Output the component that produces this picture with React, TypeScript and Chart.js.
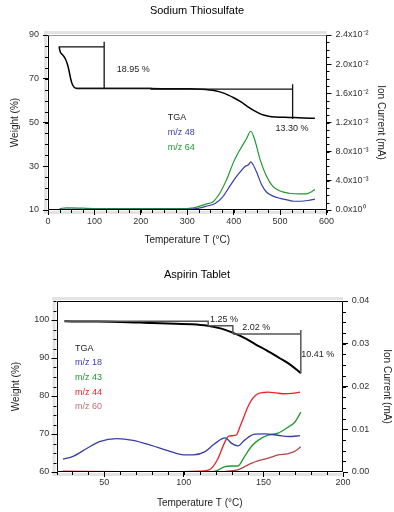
import React, { useEffect, useRef } from "react";
import { Chart, registerables } from "chart.js";

Chart.register(...registerables);

const FONT = "'Liberation Sans', Arial, Helvetica, sans-serif";

// ---------------- Sodium Thiosulfate ----------------
const thioTitle = "Sodium Thiosulfate";
const thioXTicks = [0, 100, 200, 300, 400, 500, 600];
const thioYTicks = [10, 30, 50, 70, 90];
const thioY2Ticks = [0, 0.004, 0.008, 0.012, 0.016, 0.02, 0.024];

const thioTgaTemp = [24, 25, 27, 30, 34, 38, 42, 45, 48, 51, 54, 57, 60, 64, 120, 220, 300, 330, 360, 380, 400, 415, 430, 445, 460, 475, 490, 520, 550, 575];
const thioTgaWeight = [84.8, 83.4, 82.0, 81.2, 80.3, 78.8, 76.5, 74.0, 70.8, 68.3, 66.8, 66.0, 65.7, 65.6, 65.6, 65.5, 65.4, 65.2, 64.5, 63.3, 61.3, 59.5, 57.3, 55.3, 53.7, 52.9, 52.5, 52.3, 52.1, 51.9];

const thioMz48Temp = [25, 100, 200, 300, 320, 340, 360, 375, 390, 405, 415, 425, 432, 437, 442, 450, 460, 470, 485, 500, 515, 530, 545, 560, 575];
const thioMz48Current = [0.0001, 0.0001, 0.0001, 0.0001, 0.0002, 0.0005, 0.0009, 0.0017, 0.0031, 0.0045, 0.0053, 0.006, 0.0062, 0.0066, 0.0062, 0.0051, 0.0035, 0.0025, 0.0019, 0.0016, 0.0014, 0.0012, 0.0012, 0.0013, 0.0015];

const thioMz64Temp = [25, 40, 50, 100, 200, 300, 320, 340, 355, 370, 385, 400, 413, 427, 437, 445, 457, 471, 485, 500, 520, 540, 555, 565, 575];
const thioMz64Current = [0.0002, 0.0003, 0.0003, 0.0002, 0.0002, 0.0002, 0.0004, 0.0008, 0.0011, 0.0023, 0.0042, 0.0066, 0.0082, 0.0097, 0.0108, 0.0097, 0.0069, 0.0046, 0.0032, 0.0026, 0.0023, 0.0022, 0.0022, 0.0024, 0.0028];

// step annotation (null = break)
const thioStepTemp = [25, 121, null, 121, 121, null, 60, 222, 222, 527, null, 527, 527];
const thioStepWeight = [84.6, 84.6, null, 86.9, 65.6, null, 65.6, 65.6, 65.3, 65.3, null, 67.5, 51.6];

const thioLabelText = ["18.95 %", "13.30 %", "TGA", "m/z 48", "m/z 64"];
const thioLabelTemp = [148, 490, 258, 258, 258];
const thioLabelWeight = [74.3, 47.3, 52.4, 45.3, 38.5];
const thioLabelColor = ["#222", "#222", "#222", "#3a3da6", "#1f9a2f"];

// ---------------- Aspirin Tablet ----------------
const asprTitle = "Aspirin Tablet";
const asprXTicks = [50, 100, 150, 200];
const asprYTicks = [60, 70, 80, 90, 100];
const asprY2Ticks = [0, 0.01, 0.02, 0.03, 0.04];

const asprTgaTemp = [25, 40, 60, 80, 95, 105, 115, 123, 131, 138, 145, 152, 160, 167, 173.5];
const asprTgaWeight = [99.65, 99.6, 99.5, 99.2, 99.0, 98.9, 98.5, 97.8, 96.6, 95.3, 93.6, 92.0, 90.0, 88.2, 86.0];

const asprMz18Temp = [24, 30, 39, 47, 58, 68, 79, 90, 100, 106, 113, 119, 126, 130, 134, 138, 144, 151, 159, 166, 173];
const asprMz18Current = [0.003, 0.0036, 0.0055, 0.0071, 0.0078, 0.0074, 0.0063, 0.005, 0.004, 0.004, 0.0047, 0.0065, 0.008, 0.0067, 0.0061, 0.0074, 0.0088, 0.0089, 0.0086, 0.0083, 0.0085];

const asprMz43Temp = [24, 60, 100, 115, 120, 125.4, 129.7, 133.9, 138.1, 142.3, 146.6, 152.9, 159.2, 165.6, 169.8, 173.5];
const asprMz43Current = [0, 0, 0, 0, 0.0002, 0.0012, 0.0014, 0.0014, 0.0036, 0.0059, 0.0074, 0.0086, 0.0091, 0.0105, 0.0117, 0.014];

const asprMz44Temp = [24, 60, 100, 110, 116, 121, 125.4, 128.2, 132.8, 135.5, 138.1, 140.2, 142.3, 144.5, 146.6, 150, 153, 158, 163, 168, 173];
const asprMz44Current = [0.0002, 0.0001, 0.0001, 0.0002, 0.0005, 0.0028, 0.0067, 0.0084, 0.0086, 0.0108, 0.0133, 0.0152, 0.0167, 0.0177, 0.0183, 0.0186, 0.0187, 0.0185, 0.0183, 0.0184, 0.0187];

const asprMz60Temp = [24, 60, 100, 120, 127.6, 133.9, 138, 142.3, 146.5, 150.8, 155, 159.2, 165.6, 170, 173.5];
const asprMz60Current = [0, 0, 0, 0, 0.0002, 0.0005, 0.0012, 0.002, 0.0026, 0.003, 0.0035, 0.004, 0.0043, 0.0049, 0.0059];

const asprStepTemp = [25, 115.3, 115.3, null, 115.3, 130.8, 130.8, null, 130.8, 173.5, null, 173.5, 173.5];
const asprStepWeight = [99.65, 99.65, 98.5, null, 98.5, 98.5, 96.3, null, 96.3, 96.3, null, 97.4, 86.0];

const asprLabelText = ["1.25 %", "2.02 %", "10.41 %", "TGA", "m/z 18", "m/z 43", "m/z 44", "m/z 60"];
const asprLabelTemp = [116.4, 136.7, 173.8, 31.6, 31.6, 31.6, 31.6, 31.6];
const asprLabelWeight = [100.2, 98.0, 91.0, 92.6, 88.9, 84.9, 81.0, 77.2];
const asprLabelColor = ["#222", "#222", "#222", "#222", "#3a3da6", "#1f9a2f", "#e8242a", "#c07070"];

// ---------------- helpers ----------------
function pts(ts: (number | null)[], vs: (number | null)[]) {
  return ts.map((t, i) => ({ x: t ?? (ts[i - 1] as number), y: vs[i] }));
}

function sciLabel(v: number) {
  if (Math.abs(v) < 1e-9) return "0.0x10\u2070";
  if (v < 0.0099) return (v * 1000).toFixed(1) + "x10\u207B\u00B3";
  return (v * 100).toFixed(1) + "x10\u207B\u00B2";
}

const framePlugin = {
  id: "frame",
  beforeDraw(chart: any, _a: any, opts: any) {
    const { ctx, chartArea } = chart;
    const { left, right, top, bottom } = chartArea;
    ctx.save();
    ctx.fillStyle = "#e3e3e3";
    ctx.fillRect(left - 4, top - 4, 3, bottom - top + 8);
    ctx.fillRect(left - 4, top - 4, right - left + 4, 3);
    ctx.fillRect(left - 4, bottom + 1, right - left + 4, 3);
    ctx.restore();
  },
  afterDatasetsDraw(chart: any, _a: any, opts: any) {
    const { ctx, chartArea } = chart;
    const l = Math.round(chartArea.left) + 0.5;
    const r = Math.round(chartArea.right) - 0.5;
    const t = Math.round(chartArea.top) + 0.5;
    const b = Math.round(chartArea.bottom) - 0.5;
    ctx.save();
    ctx.lineWidth = 1;
    ctx.strokeStyle = opts.topColor || "#000";
    ctx.beginPath();
    ctx.moveTo(l, t);
    ctx.lineTo(r, t);
    ctx.stroke();
    ctx.strokeStyle = "#000";
    ctx.beginPath();
    ctx.moveTo(r, t);
    ctx.lineTo(r, b);
    ctx.lineTo(l, b);
    ctx.lineTo(l, t);
    ctx.stroke();

    // text annotations
    ctx.font = `9px ${FONT}`;
    ctx.textBaseline = "middle";
    ctx.textAlign = "left";
    const xs = chart.scales.x;
    const ys = chart.scales.y;
    (opts.labels || []).forEach((lb: any) => {
      ctx.fillStyle = lb.color;
      ctx.fillText(lb.text, xs.getPixelForValue(lb.x), ys.getPixelForValue(lb.y));
    });
    ctx.restore();
  },
  afterDraw(chart: any, _a: any, opts: any) {
    const { ctx } = chart;
    ctx.save();
    ctx.strokeStyle = "#000";
    ctx.lineWidth = 1;
    (opts.minor || []).forEach((m: any) => {
      const sc = chart.scales[m.id];
      const n = Math.round((m.max - m.min) / m.step);
      for (let i = 0; i <= n; i++) {
        const v = m.min + i * m.step;
        const px = Math.round(sc.getPixelForValue(v)) + 0.5;
        ctx.beginPath();
        if (sc.position === "bottom") {
          ctx.moveTo(px - 0.5 + 0.5, sc.top);
          ctx.lineTo(px - 0.5 + 0.5, sc.top + 3);
        } else if (sc.position === "left") {
          ctx.moveTo(sc.right - 3, px - 0.5 + 0.5);
          ctx.lineTo(sc.right, px - 0.5 + 0.5);
        } else {
          ctx.moveTo(sc.left, px);
          ctx.lineTo(sc.left + 3, px);
        }
        ctx.stroke();
      }
    });
    ctx.restore();
  },
};

function lineDs(data: any[], color: string, width: number, yAxisID: string, smooth: boolean) {
  return {
    data,
    borderColor: color,
    backgroundColor: color,
    borderWidth: width,
    pointRadius: 0,
    fill: false,
    yAxisID,
    spanGaps: false,
    cubicInterpolationMode: smooth ? "monotone" : "default",
    tension: 0,
  };
}

function fixedTicks(values: number[]) {
  return (scale: any) => {
    scale.ticks = values.map((v) => ({ value: v }));
  };
}

const tickFont = { family: FONT, size: 9 };
const titleFont = { family: FONT, size: 10 };

function buildConfig(spec: any) {
  const L = spec.layout;
  return {
    type: "line",
    data: { datasets: spec.datasets },
    plugins: [framePlugin],
    options: {
      animation: false,
      responsive: false,
      maintainAspectRatio: false,
      events: [],
      layout: { padding: 0 },
      plugins: {
        legend: { display: false },
        tooltip: { enabled: false },
        title: {
          display: true,
          text: spec.title,
          color: "#000",
          font: { family: FONT, size: 11, weight: "normal" },
          padding: { top: L.titleTop, bottom: L.titleBottom },
        },
        frame: { labels: spec.labels, minor: spec.minor, topColor: spec.topColor },
      },
      scales: {
        x: {
          type: "linear",
          position: "bottom",
          min: spec.xMin,
          max: spec.xMax,
          afterBuildTicks: fixedTicks(spec.xTicks),
          afterFit: (s: any) => { s.height = L.xHeight; },
          grid: { display: true, drawOnChartArea: false, tickLength: 5, tickColor: "#000", color: "#000" },
          border: { display: false },
          ticks: { color: "#333", font: tickFont, padding: L.xPad, maxRotation: 0, autoSkip: false },
          title: { display: true, text: "Temperature T (\u00B0C)", color: "#222", font: titleFont, padding: { top: 0, bottom: L.xTitlePad } },
        },
        y: {
          type: "linear",
          position: "left",
          min: spec.yMin,
          max: spec.yMax,
          afterBuildTicks: fixedTicks(spec.yTicks),
          afterFit: (s: any) => { s.width = L.yWidth; },
          grid: { display: true, drawOnChartArea: false, tickLength: 5, tickColor: "#000", color: "#000" },
          border: { display: false },
          ticks: { color: "#333", font: tickFont, padding: L.yPad, autoSkip: false },
          title: { display: true, text: "Weight (%)", color: "#222", font: titleFont, padding: { top: L.yTitlePad, bottom: 0 } },
        },
        y2: {
          type: "linear",
          position: "right",
          min: 0,
          max: spec.y2Max,
          afterBuildTicks: fixedTicks(spec.y2Ticks),
          afterFit: (s: any) => { s.width = L.y2Width; },
          grid: { display: true, drawOnChartArea: false, tickLength: 5, tickColor: "#000", color: "#000" },
          border: { display: false },
          ticks: { color: "#333", font: tickFont, padding: L.y2Pad, autoSkip: false, callback: spec.y2Label },
          title: { display: true, text: "Ion Current (mA)", color: "#222", font: titleFont, padding: { top: L.y2TitlePad, bottom: 0 } },
        },
      },
    },
  };
}

const thioSpec = {
  title: thioTitle,
  xMin: 0, xMax: 600, xTicks: thioXTicks,
  yMin: 10, yMax: 90, yTicks: thioYTicks,
  y2Max: 0.024, y2Ticks: thioY2Ticks,
  y2Label: (v: any) => sciLabel(Number(v)),
  topColor: "#9a9a9a",
  layout: { titleTop: 4.4, titleBottom: 17.4, xHeight: 46, yWidth: 48, y2Width: 67.5, xPad: 1, yPad: 4, y2Pad: 4, xTitlePad: 10, yTitlePad: 9, y2TitlePad: 7 },
  minor: [
    { id: "x", min: 0, max: 600, step: 25 },
    { id: "y", min: 10, max: 90, step: 5 },
    { id: "y2", min: 0, max: 0.024, step: 0.001 },
  ],
  labels: thioLabelText.map((t, i) => ({ text: t, x: thioLabelTemp[i], y: thioLabelWeight[i], color: thioLabelColor[i] })),
  datasets: [
    lineDs(pts(thioMz48Temp, thioMz48Current), "#3a3da6", 1.2, "y2", true),
    lineDs(pts(thioMz64Temp, thioMz64Current), "#1f9a2f", 1.2, "y2", true),
    lineDs(pts(thioStepTemp, thioStepWeight), "#111", 1.3, "y", false),
    lineDs(pts(thioTgaTemp, thioTgaWeight), "#000", 1.5, "y", true),
  ],
};

const asprSpec = {
  title: asprTitle,
  xMin: 20, xMax: 200, xTicks: asprXTicks,
  yMin: 60, yMax: 105, yTicks: asprYTicks,
  y2Max: 0.04, y2Ticks: asprY2Ticks,
  y2Label: (v: any) => Number(v).toFixed(2),
  topColor: "#000",
  layout: { titleTop: 12.4, titleBottom: 19.4, xHeight: 40, yWidth: 56.5, y2Width: 51, xPad: 0.6, yPad: 2.2, y2Pad: 3.7, xTitlePad: 3, yTitlePad: 10.7, y2TitlePad: 1.3 },
  minor: [
    { id: "x", min: 20, max: 200, step: 10 },
    { id: "y", min: 60, max: 105, step: 2.5 },
    { id: "y2", min: 0, max: 0.04, step: 0.0025 },
  ],
  labels: asprLabelText.map((t, i) => ({ text: t, x: asprLabelTemp[i], y: asprLabelWeight[i], color: asprLabelColor[i] })),
  datasets: [
    lineDs(pts(asprMz18Temp, asprMz18Current), "#3a3da6", 1.3, "y2", true),
    lineDs(pts(asprMz60Temp, asprMz60Current), "#b04848", 1.3, "y2", true),
    lineDs(pts(asprMz43Temp, asprMz43Current), "#1f9a2f", 1.3, "y2", true),
    lineDs(pts(asprMz44Temp, asprMz44Current), "#e8242a", 1.3, "y2", true),
    lineDs(pts(asprStepTemp, asprStepWeight), "#555", 1.5, "y", false),
    lineDs(pts(asprTgaTemp, asprTgaWeight), "#000", 2, "y", true),
  ],
};

function ChartBox({ spec, top }: { spec: any; top: number }) {
  const ref = useRef<HTMLCanvasElement | null>(null);
  useEffect(() => {
    if (!ref.current) return;
    const chart = new Chart(ref.current, buildConfig(spec) as any);
    return () => chart.destroy();
  }, [spec]);
  return (
    <canvas
      ref={ref}
      width={394}
      height={256}
      style={{ position: "absolute", left: 0, top, width: 394, height: 256, display: "block" }}
    />
  );
}

export default function App() {
  return (
    <div style={{ position: "absolute", left: 0, top: 0, width: 394, height: 512, background: "#fff" }}>
      <ChartBox spec={thioSpec} top={0} />
      <ChartBox spec={asprSpec} top={256} />
    </div>
  );
}
